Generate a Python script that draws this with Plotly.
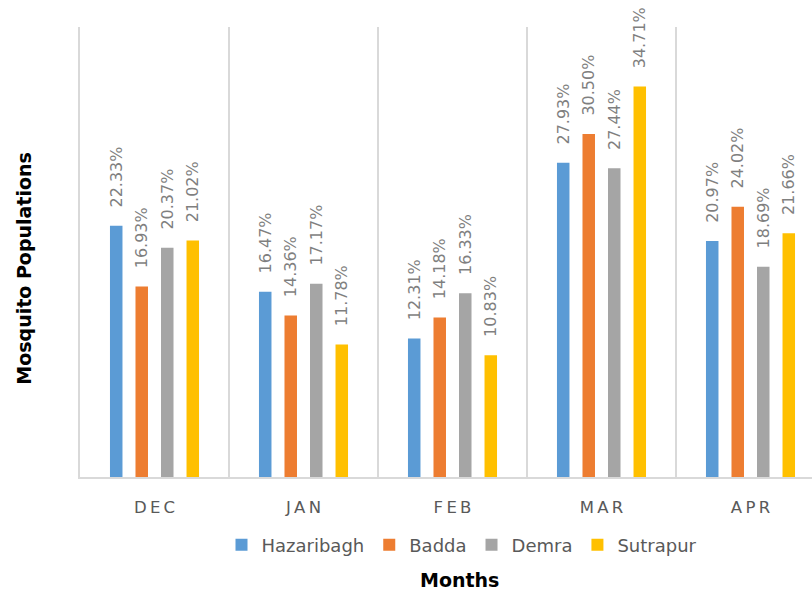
import plotly.graph_objects as go

months = ["DEC", "JAN", "FEB", "MAR", "APR"]
month_ticktext = ["D\u2009E\u2009C", "J\u2009A\u2009N", "F\u2009E\u2009B", "M\u2009A\u2009R", "A\u2009P\u2009R"]

hazaribagh = [22.33, 16.47, 12.31, 27.93, 20.97]
badda = [16.93, 14.36, 14.18, 30.50, 24.02]
demra = [20.37, 17.17, 16.33, 27.44, 18.69]
sutrapur = [21.02, 11.78, 10.83, 34.71, 21.66]

series = [
    ("Hazaribagh", hazaribagh, "#5B9BD5"),
    ("Badda", badda, "#ED7D31"),
    ("Demra", demra, "#A5A5A5"),
    ("Sutrapur", sutrapur, "#FFC000"),
]

LABEL_FONT = dict(family="DejaVu Sans", size=16, color="#7F7F7F")
PAD = "\u00a0\u00a0\u00a0"

fig = go.Figure()
for name, vals, color in series:
    fig.add_trace(go.Bar(
        name=name,
        x=months,
        y=vals,
        marker=dict(color=color, line=dict(width=0)),
        text=[f"{PAD}{v:.2f}%" for v in vals],
        textposition="outside",
        textangle=-90,
        textfont=LABEL_FONT,
        constraintext="none",
        cliponaxis=False,
        hoverinfo="skip",
    ))

fig.update_layout(
    width=812,
    height=597,
    margin=dict(l=80, r=0, t=27, b=120),
    plot_bgcolor="white",
    paper_bgcolor="white",
    barmode="group",
    bargap=0.315,
    bargroupgap=0.51,
    showlegend=True,
    legend=dict(
        orientation="h",
        x=0.5 + (462 - 446) / 732,
        xanchor="center",
        yref="container",
        y=1 - 545 / 597,
        yanchor="middle",
        font=dict(family="DejaVu Sans", size=18, color="#595959"),
        itemclick=False,
        traceorder="normal",
    ),
    xaxis=dict(
        type="category",
        categoryorder="array",
        categoryarray=months,
        tickmode="array",
        tickvals=months,
        ticktext=month_ticktext,
        range=[-0.5, -0.5 + 732 / 149],
        tickson="boundaries",
        showgrid=True,
        gridcolor="#D9D9D9",
        gridwidth=1.5,
        showline=True,
        linecolor="#D9D9D9",
        linewidth=1.5,
        ticks="",
        ticklabelstandoff=14,
        tickfont=dict(family="DejaVu Sans", size=16.5, color="#595959"),
        zeroline=False,
        fixedrange=True,
    ),
    yaxis=dict(
        range=[0, 40],
        showgrid=False,
        showticklabels=False,
        showline=True,
        linecolor="#D9D9D9",
        linewidth=1.5,
        zeroline=False,
        ticks="",
        fixedrange=True,
    ),
    annotations=[
        dict(
            text="<b>Months</b>",
            xref="paper", yref="paper",
            x=(459 - 80) / 732, y=(477.5 - 581) / 450.5,
            xanchor="center", yanchor="middle",
            showarrow=False,
            font=dict(family="DejaVu Sans", size=19, color="#000000"),
        ),
        dict(
            text="<b>Mosquito Populations</b>",
            xref="paper", yref="paper",
            x=(24 - 80) / 732, y=(477.5 - 269) / 450.5,
            xanchor="center", yanchor="middle",
            textangle=-90,
            showarrow=False,
            font=dict(family="DejaVu Sans", size=19, color="#000000"),
        ),
    ],
)

fig.write_html("out.html")
